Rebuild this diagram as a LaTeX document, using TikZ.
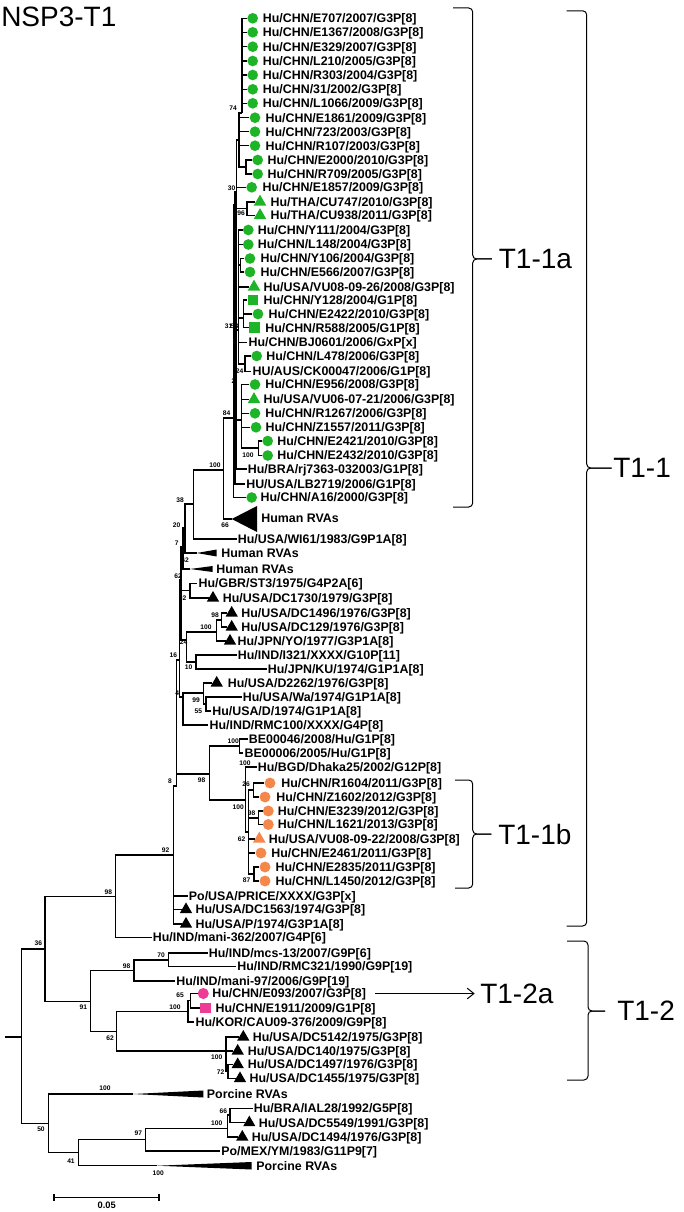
\documentclass[tikz,border=0pt]{standalone}
\usepackage{fontspec}
\setmainfont{Liberation Sans}
\usetikzlibrary{shapes.geometric,arrows.meta}
\definecolor{ngreen}{RGB}{30,180,40}
\definecolor{norange}{RGB}{245,135,75}
\definecolor{npink}{RGB}{238,60,150}

\begin{document}
\begin{tikzpicture}[x=0.75pt, y=-0.75pt,
  br/.style={line width=1.05pt},
  brace/.style={line width=0.75pt, rounded corners=3pt},
  lab/.style={anchor=west, inner sep=0.8pt, text height=6.7pt, text depth=0pt,
    font=\bfseries\fontsize{9.3}{10}\selectfont},
  boot/.style={inner sep=0pt, font=\bfseries\fontsize{5}{5}\selectfont},
  clade/.style={anchor=west, inner sep=0pt, font=\fontsize{21}{21}\selectfont},
  mk/.style={inner sep=0pt, draw=none},
  gdot/.style={mk, circle, fill=ngreen, minimum size=8pt},
  gtri/.style={mk, regular polygon, regular polygon sides=3, fill=ngreen, minimum size=11pt},
  gsq/.style={mk, rectangle, fill=ngreen, minimum size=8pt},
  odot/.style={mk, circle, fill=norange, minimum size=8.2pt},
  otri/.style={mk, regular polygon, regular polygon sides=3, fill=norange, minimum size=11pt},
  pdot/.style={mk, circle, fill=npink, minimum size=8.3pt},
  psq/.style={mk, rectangle, fill=npink, minimum size=8.2pt},
  ktri/.style={mk, regular polygon, regular polygon sides=3, fill=black, minimum size=10.6pt}]
\useasboundingbox (0,0) rectangle (684,1212);

% title
\node[clade] (title) at (1,17) {NSP3-T1};

% --- internal nodes ---
\foreach \n/\x/\y in {nP/242/113, n74/239/140, nF/246/167, nB/236.5/192, nCU/247/208.7,
    nQ/238.3/330, nYE/240.5/265, n58/243.3/318, nLC/245/364, nE/241.7/420, nEE/258.3/448,
    nA/234.9/205, n84/233.3/418, n100/223.3/470, hr0/231.7/519, n38/193.3/504,
    n20/185/528, hr1/196.7/553, n7/183/547, hr2/190/569, n62b/181/580, n92c/190/590.5,
    n24/186.7/640, n100b/216.7/632, n98d/221.7/620, n10/196/662, n16/179.3/660,
    n4/183/697, n99/203.3/693, n55/206/704, n8/176.7/786, n98/209.3/774, nBE/239.3/746,
    nB2/245.7/800, nC/248.3/832, nR/253.3/790, nE2/258.3/818, n87/254/874,
    n92/173.3/855, n98b/115.7/896.7, n36/45/949, n91/90.7/1001.7, n98e/134/970.7,
    n70/168.3/960, n62/116.7/1031.7, n100e/188/1011.7, n65/190.5/1000.5, nDC/226/1051,
    n72/228/1071.5, root/21.7/1037, r0/5/1037, n50/48.3/1123.3, pr1/133/1094,
    n41/78.3/1152.3, pr2/157/1165.7, n97/145.7/1139.3, n100f/227.7/1128.3, n66/230/1115}
  \coordinate (\n) at (\x,\y);

% --- T1-1a ---
\node[gdot] (mE707) at (252.7,18.3) {};   \node[lab] (E707) at (261.6,18.3) {Hu/CHN/E707/2007/G3P[8]};
\node[gdot] (mE1367) at (252.7,32.3) {};  \node[lab] (E1367) at (261.6,32.3) {Hu/CHN/E1367/2008/G3P[8]};
\node[gdot] (mE329) at (252.7,46.7) {};   \node[lab] (E329) at (261.6,46.7) {Hu/CHN/E329/2007/G3P[8]};
\node[gdot] (mL210) at (252.7,61) {};     \node[lab] (L210) at (261.6,61) {Hu/CHN/L210/2005/G3P[8]};
\node[gdot] (mR303) at (252.7,75) {};     \node[lab] (R303) at (261.6,75) {Hu/CHN/R303/2004/G3P[8]};
\node[gdot] (m31) at (252.7,89.3) {};     \node[lab] (c31) at (261.6,89.3) {Hu/CHN/31/2002/G3P[8]};
\node[gdot] (mL1066) at (252.7,103.3) {}; \node[lab] (L1066) at (261.6,103.3) {Hu/CHN/L1066/2009/G3P[8]};
\node[gdot] (mE1861) at (255,117.7) {};   \node[lab] (E1861) at (264.3,117.7) {Hu/CHN/E1861/2009/G3P[8]};
\node[gdot] (m723) at (255,131.7) {};     \node[lab] (c723) at (264.3,131.7) {Hu/CHN/723/2003/G3P[8]};
\node[gdot] (mR107) at (255,145.7) {};    \node[lab] (R107) at (264.3,145.7) {Hu/CHN/R107/2003/G3P[8]};
\node[gdot] (mE2000) at (257.7,160) {};   \node[lab] (E2000) at (266.3,160) {Hu/CHN/E2000/2010/G3P[8]};
\node[gdot] (mR709) at (257.7,174) {};    \node[lab] (R709) at (266.3,174) {Hu/CHN/R709/2005/G3P[8]};
\node[gdot] (mE1857) at (251.7,187.3) {}; \node[lab] (E1857) at (261.3,187.3) {Hu/CHN/E1857/2009/G3P[8]};
\node[gtri] (mCU747) at (260,202) {};     \node[lab] (CU747) at (269.3,202) {Hu/THA/CU747/2010/G3P[8]};
\node[gtri] (mCU938) at (260,215.5) {};   \node[lab] (CU938) at (269.3,215.5) {Hu/THA/CU938/2011/G3P[8]};
\node[gdot] (mY111) at (248.3,230) {};    \node[lab] (Y111) at (256.6,230) {Hu/CHN/Y111/2004/G3P[8]};
\node[gdot] (mL148) at (248.3,244.5) {};  \node[lab] (L148) at (256.6,244.5) {Hu/CHN/L148/2004/G3P[8]};
\node[gdot] (mY106) at (250,258.5) {};    \node[lab] (Y106) at (259.3,258.5) {Hu/CHN/Y106/2004/G3P[8]};
\node[gdot] (mE566) at (250,272) {};      \node[lab] (E566) at (259.3,272) {Hu/CHN/E566/2007/G3P[8]};
\node[gtri] (mVU0826) at (254,287) {};    \node[lab] (VU0826) at (262.3,287) {Hu/USA/VU08-09-26/2008/G3P[8]};
\node[gsq] (mY128) at (253,300) {};       \node[lab] (Y128) at (262.3,300) {Hu/CHN/Y128/2004/G1P[8]};
\node[gdot] (mE2422) at (258,314) {};     \node[lab] (E2422) at (267.3,314) {Hu/CHN/E2422/2010/G3P[8]};
\node[gsq] (mR588) at (254.5,327.7) {};   \node[lab] (R588) at (264,327.7) {Hu/CHN/R588/2005/G1P[8]};
\node[lab] (BJ0601) at (247.3,342.5) {Hu/CHN/BJ0601/2006/GxP[x]};
\node[gdot] (mL478) at (256.7,356) {};    \node[lab] (L478) at (265,356) {Hu/CHN/L478/2006/G3P[8]};
\node[lab] (CK00047) at (251.3,371.5) {HU/AUS/CK00047/2006/G1P[8]};
\node[gdot] (mE956) at (255,384.5) {};    \node[lab] (E956) at (264,384.5) {Hu/CHN/E956/2008/G3P[8]};
\node[gtri] (mVU0621) at (254,399.5) {};  \node[lab] (VU0621) at (262.3,399.5) {Hu/USA/VU06-07-21/2006/G3P[8]};
\node[gdot] (mR1267) at (255,413.3) {};   \node[lab] (R1267) at (264,413.3) {Hu/CHN/R1267/2006/G3P[8]};
\node[gdot] (mZ1557) at (256,427.3) {};   \node[lab] (Z1557) at (264.3,427.3) {Hu/CHN/Z1557/2011/G3P[8]};
\node[gdot] (mE2421) at (267.7,441) {};   \node[lab] (E2421) at (276,441) {Hu/CHN/E2421/2010/G3P[8]};
\node[gdot] (mE2432) at (267.7,455.5) {}; \node[lab] (E2432) at (276,455.5) {Hu/CHN/E2432/2010/G3P[8]};
\node[lab] (rj7363) at (246.6,469) {Hu/BRA/rj7363-032003/G1P[8]};
\node[lab] (LB2719) at (245,484) {HU/USA/LB2719/2006/G1P[8]};
\node[gdot] (mA16) at (251.7,497.5) {};   \node[lab] (A16) at (259.3,497.5) {Hu/CHN/A16/2000/G3P[8]};

% --- rest of T1-1 ---
\node[lab] (hRVA0) at (260,518) {Human RVAs};
\node[lab] (WI61) at (236.6,539) {Hu/USA/WI61/1983/G9P1A[8]};
\node[lab] (hRVA1) at (220,553) {Human RVAs};
\node[lab] (hRVA2) at (215,569) {Human RVAs};
\node[lab] (ST3) at (197.3,583.5) {Hu/GBR/ST3/1975/G4P2A[6]};
\node[ktri] (mDC1730) at (213,598) {};    \node[lab] (DC1730) at (221.6,598) {Hu/USA/DC1730/1979/G3P[8]};
\node[ktri] (mDC1496) at (231.7,613) {};  \node[lab] (DC1496) at (240,613) {Hu/USA/DC1496/1976/G3P[8]};
\node[ktri] (mDC129) at (231.7,627) {};   \node[lab] (DC129) at (240,627) {Hu/USA/DC129/1976/G3P[8]};
\node[ktri] (mYO) at (230,641) {};        \node[lab] (YO) at (236.3,641) {Hu/JPN/YO/1977/G3P1A[8]};
\node[lab] (I321) at (236.6,655) {Hu/IND/I321/XXXX/G10P[11]};
\node[lab] (KU) at (266.6,669) {Hu/JPN/KU/1974/G1P1A[8]};
\node[ktri] (mD2262) at (216.7,683) {};   \node[lab] (D2262) at (226.6,683) {Hu/USA/D2262/1976/G3P[8]};
\node[lab] (Wa) at (241.6,697) {Hu/USA/Wa/1974/G1P1A[8]};
\node[lab] (D1974) at (211,711) {Hu/USA/D/1974/G1P1A[8]};
\node[lab] (RMC100) at (208.3,725) {Hu/IND/RMC100/XXXX/G4P[8]};
\node[lab] (BE00046) at (247.6,739) {BE00046/2008/Hu/G1P[8]};
\node[lab] (BE00006) at (243.3,753) {BE00006/2005/Hu/G1P[8]};
\node[lab] (Dhaka25) at (256.6,767) {Hu/BGD/Dhaka25/2002/G12P[8]};
\node[odot] (mR1604) at (270,783) {};     \node[lab] (R1604) at (280,783) {Hu/CHN/R1604/2011/G3P[8]};
\node[odot] (mZ1602) at (265,797) {};     \node[lab] (Z1602) at (275,797) {Hu/CHN/Z1602/2012/G3P[8]};
\node[odot] (mE3239) at (268.3,811) {};   \node[lab] (E3239) at (276.6,811) {Hu/CHN/E3239/2012/G3P[8]};
\node[odot] (mL1621) at (268.3,824.5) {}; \node[lab] (L1621) at (276.6,824.5) {Hu/CHN/L1621/2013/G3P[8]};
\node[otri] (mVU0822) at (259.3,839) {};  \node[lab] (VU0822) at (267.6,839) {Hu/USA/VU08-09-22/2008/G3P[8]};
\node[odot] (mE2461) at (261,853) {};     \node[lab] (E2461) at (270,853) {Hu/CHN/E2461/2011/G3P[8]};
\node[odot] (mE2835) at (265,867) {};     \node[lab] (E2835) at (274.3,867) {Hu/CHN/E2835/2011/G3P[8]};
\node[odot] (mL1450) at (265,881) {};     \node[lab] (L1450) at (274.3,881) {Hu/CHN/L1450/2012/G3P[8]};
\node[lab] (PRICE) at (187.6,896) {Po/USA/PRICE/XXXX/G3P[x]};
\node[ktri] (mDC1563) at (186,909.5) {};  \node[lab] (DC1563) at (194.3,909.5) {Hu/USA/DC1563/1974/G3P[8]};
\node[ktri] (mP1974) at (186,924) {};     \node[lab] (P1974) at (194.3,924) {Hu/USA/P/1974/G3P1A[8]};
\node[lab] (mani362) at (151.6,937.5) {Hu/IND/mani-362/2007/G4P[6]};

% --- T1-2 ---
\node[lab] (mcs13) at (207.6,953) {Hu/IND/mcs-13/2007/G9P[6]};
\node[lab] (RMC321) at (236,966.5) {Hu/IND/RMC321/1990/G9P[19]};
\node[lab] (mani97) at (175,981) {Hu/IND/mani-97/2006/G9P[19]};
\node[pdot] (mE093) at (203.3,993.5) {};  \node[lab] (E093) at (211,993.5) {Hu/CHN/E093/2007/G3P[8]};
\node[psq] (mE1911) at (205.7,1008) {};   \node[lab] (E1911) at (214.3,1008) {Hu/CHN/E1911/2009/G1P[8]};
\node[lab] (CAU09) at (194.3,1022) {Hu/KOR/CAU09-376/2009/G9P[8]};
\node[ktri] (mDC5142) at (243.3,1037) {}; \node[lab] (DC5142) at (251.6,1037) {Hu/USA/DC5142/1975/G3P[8]};
\node[ktri] (mDC140) at (237.7,1051) {};  \node[lab] (DC140) at (246.6,1051) {Hu/USA/DC140/1975/G3P[8]};
\node[ktri] (mDC1497) at (237.7,1064.5) {}; \node[lab] (DC1497) at (246.6,1064.5) {Hu/USA/DC1497/1976/G3P[8]};
\node[ktri] (mDC1455) at (240,1078.5) {}; \node[lab] (DC1455) at (248.3,1078.5) {Hu/USA/DC1455/1975/G3P[8]};

% --- outgroups ---
\node[lab] (pRVA1) at (205.6,1094) {Porcine RVAs};
\node[lab] (IAL28) at (252.6,1108.3) {Hu/BRA/IAL28/1992/G5P[8]};
\node[ktri] (mDC5549) at (249.3,1122.7) {}; \node[lab] (DC5549) at (257.6,1122.7) {Hu/USA/DC5549/1991/G3P[8]};
\node[ktri] (mDC1494) at (242.3,1137) {}; \node[lab] (DC1494) at (250.6,1137) {Hu/USA/DC1494/1976/G3P[8]};
\node[lab] (YM) at (220,1151) {Po/MEX/YM/1983/G11P9[7]};
\node[lab] (pRVA2) at (255,1165.7) {Porcine RVAs};

% --- branches ---
\foreach \p/\c in {nP/mE707, nP/mE1367, nP/mE329, nP/mL210, nP/mR303, nP/m31, nP/mL1066,
    n74/nP, n74/mE1861, n74/m723, n74/mR107, n74/nF, nF/mE2000, nF/mR709,
    nB/n74, nB/mE1857, nB/nCU, nB/nQ, nB/nE, nB/rj7363, nCU/mCU747, nCU/mCU938,
    nQ/mY111, nQ/mL148, nQ/nYE, nQ/mVU0826, nQ/n58, nQ/BJ0601, nQ/nLC,
    nYE/mY106, nYE/mE566, n58/mY128, n58/mE2422, n58/mR588, nLC/mL478, nLC/CK00047,
    nE/mE956, nE/mVU0621, nE/mR1267, nE/mZ1557, nE/nEE, nEE/mE2421, nEE/mE2432,
    nA/nB, nA/LB2719, n84/nA, n84/mA16, n100/n84, n100/hr0, n38/n100, n38/WI61,
    n20/n38, n20/hr1, n7/n20, n7/hr2, n62b/n7, n62b/n92c, n62b/n24,
    n92c/ST3, n92c/mDC1730, n24/n100b, n24/n10, n100b/n98d, n100b/mYO,
    n98d/mDC1496, n98d/mDC129, n10/I321, n10/KU, n16/n62b, n16/n4,
    n4/n99, n4/RMC100, n99/mD2262, n99/n55, n55/Wa, n55/D1974,
    n8/n16, n8/n98, n98/nBE, n98/nB2, nBE/BE00046, nBE/BE00006, nB2/Dhaka25, nB2/nC,
    nC/nR, nC/nE2, nC/mVU0822, nC/mE2461, nC/n87, nR/mR1604, nR/mZ1602,
    nE2/mE3239, nE2/mL1621, n87/mE2835, n87/mL1450,
    n92/n8, n92/PRICE, n92/mDC1563, n92/mP1974, n98b/n92, n98b/mani362,
    n36/n98b, n36/n91, n91/n98e, n91/n62, n98e/n70, n98e/mani97, n70/mcs13, n70/RMC321,
    n62/n100e, n62/nDC, n100e/n65, n100e/CAU09, n65/mE093, n65/mE1911,
    nDC/mDC5142, nDC/mDC140, nDC/n72, n72/mDC1497, n72/mDC1455,
    root/n36, root/n50, n50/pr1, n50/n41, n41/n97, n41/pr2,
    n97/n100f, n97/YM, n100f/n66, n100f/mDC1494, n66/IAL28, n66/mDC5549}
  \draw[br] (\p) |- (\c);
\draw[br] (r0) -- (root);

% collapsed clades
\fill (hr0) -- (257,506) -- (257,532) -- cycle;
\fill (hr1) -- (216.7,549.5) -- (216.7,556.5) -- cycle;
\fill (hr2) -- (212.7,566) -- (212.7,572) -- cycle;
\fill (pr1) -- (203.3,1090.5) -- (203.3,1097.5) -- cycle;
\fill (pr2) -- (251.7,1162) -- (251.7,1169.5) -- cycle;

% bootstrap values
\foreach \v/\x/\y [count=\i] in {74/233/108, 30/231.7/188, 96/241/213, 31/228.5/326,
    58/234.5/326, 24/239.5/371, 2/233.5/381, 84/226.7/413, 100/248/455.7, 100/215/465,
    66/225/525, 38/180/500, 20/176.7/525, 7/176.7/543, 62/185/560, 62/178/576,
    92/182.7/598, 98/215/615, 100/206/627, 24/183.5/642, 16/173.3/655, 10/188.5/667,
    4/177.3/693, 99/196/700, 55/198.3/711, 100/233.3/740.7, 100/245/763, 8/170/781,
    98/201.7/780, 26/246/784, 100/238.3/806.7, 98/251.7/813, 62/241.7/839, 92/165.7/850,
    87/246.7/880, 98/108.3/891.7, 36/38.3/943, 70/161/955, 98/126.7/966, 65/180/995,
    100/175/1006.7, 91/83.3/1006.7, 62/110/1038, 100/216.7/1057, 72/220.7/1071.7,
    100/105/1088, 66/223.3/1110.7, 100/216.7/1122.7, 50/41/1129, 97/138.3/1133.3,
    41/71/1161, 100/158.3/1172.7}
  \node[boot] (bs\i) at (\x,\y) {\v};

% scale bar
\coordinate (sb1) at (54,1197.3);
\coordinate (sb2) at (159,1197.3);
\draw[line width=0.9pt] (sb1) -- (sb2) ([yshift=2.5pt]sb1) -- ([yshift=-2.5pt]sb1)
  ([yshift=2.5pt]sb2) -- ([yshift=-2.5pt]sb2);
\node[inner sep=0pt, font=\bfseries\fontsize{7}{7}\selectfont] (sbl) at (106.7,1205.5) {0.05};

% --- clade labels ---
\node[clade] (T11a) at (498.6,259) {T1-1a};
\node[clade] (T11) at (613,468) {T1-1};
\node[clade] (T11b) at (498,834) {T1-1b};
\node[clade] (T12a) at (480,993.5) {T1-2a};
\node[clade] (T12) at (617,1011) {T1-2};

\draw[brace] (453,8) -| (472.7,259) -- ([xshift=-5pt]T11a.west);
\draw[brace] (453,507) -| (472.7,259) -- ([xshift=-5pt]T11a.west);
\draw[brace] (566.7,10.8) -| (586.7,468) -- ([xshift=-1pt]T11.west);
\draw[brace] (566.7,926) -| (586.7,468) -- ([xshift=-1pt]T11.west);
\draw[brace] (455,780) -| (472.7,834) -- ([xshift=-5pt]T11b.west);
\draw[brace] (455,888) -| (472.7,834) -- ([xshift=-5pt]T11b.west);
\draw[brace] (567,941) -| (588,1011) -- ([xshift=-9pt]T12.west);
\draw[brace] (567,1080) -| (588,1011) -- ([xshift=-9pt]T12.west);

\coordinate (a0) at (375,993.5);
\draw[line width=0.75pt, -{Straight Barb[length=5pt,width=8pt]}, shorten >=4pt] (a0) -- (T12a);
\end{tikzpicture}
\end{document}
